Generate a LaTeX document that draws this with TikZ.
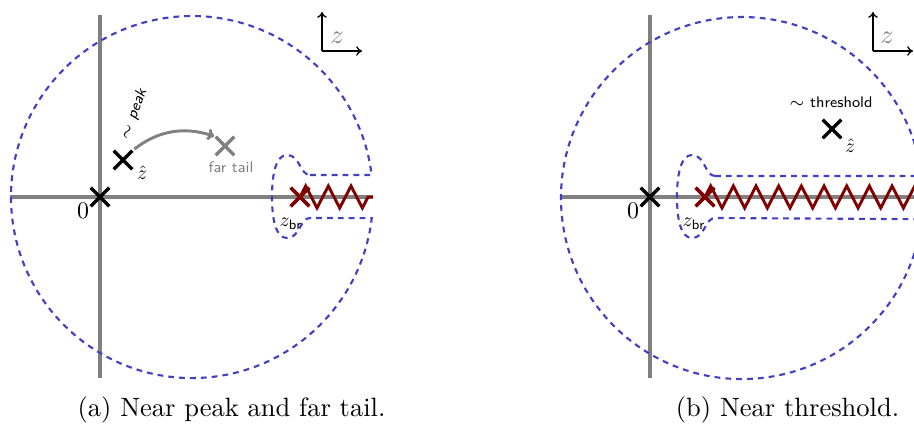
\documentclass[tikz,border=0pt]{standalone}
\usepackage{fontspec}
\usetikzlibrary{shapes.misc,decorations.pathmorphing,arrows.meta}
\definecolor{axisgray}{RGB}{128,128,128}
\definecolor{contourblue}{RGB}{64,64,196}
\definecolor{cutred}{RGB}{128,0,0}
\tikzset{
  axisline/.style={draw=axisgray, line width=1.5pt},
  contour/.style={draw=contourblue, line width=0.8pt, dash pattern=on 2.2pt off 1.9pt},
  crossmark/.style={draw, cross out, line width=1.3pt, minimum size=5.7pt, inner sep=0pt},
  cutline/.style={draw=cutred, line width=1.1pt, decorate, decoration={zigzag, segment length=8.56pt, amplitude=4.15pt}},
  indicator/.style={-{To[length=2.2pt,width=3.6pt]}, line width=0.5pt},
  mathlbl/.style={inner sep=0pt, scale=0.74},
  sflbl/.style={inner sep=0pt, font=\fontsize{5.8}{7}\selectfont\sffamily},
  caption/.style={inner sep=0pt, font=\fontsize{10}{12}\selectfont}
}
\begin{document}
\begin{tikzpicture}[x=0.3775pt,y=0.3775pt]
\useasboundingbox (0,0) rectangle (914,-434);
\clip (0,0) rectangle (914,-434);

% ---------------- panel (a) ----------------
\coordinate (ha1) at (10,-197);
\coordinate (hb1) at (373,-197);
\coordinate (va1) at (100,-15);
\coordinate (vb1) at (100,-378);
\draw[axisline] (ha1) -- (hb1);
\draw[axisline] (va1) -- (vb1);

\draw[contour] (310,-175) -- (371.65,-175)
  arc[start angle=7, end angle=353.3, radius=68.33pt]
  -- (310,-218)
  .. controls (300,-218) and (300,-238) .. (287,-238)
  .. controls (276,-238) and (272,-220) .. (272,-197)
  .. controls (272,-174) and (276,-155) .. (287,-155)
  .. controls (300,-155) and (300,-175) .. (310,-175) -- cycle;

\node[crossmark, draw=cutred] (br1) at (300,-197) {};
\coordinate (cutend1) at (373,-197);
\draw[cutline] (br1.center) -- (cutend1);
\node[crossmark, draw=cutred] at (300,-197) {};

\node[crossmark] (o1) at (100,-197) {};
\node[crossmark] (zh1) at (123,-160) {};
\node[crossmark, draw=axisgray] (tail1) at (225,-146) {};
\draw[axisgray, line width=1.1pt, -{To[length=2.6pt,width=4.4pt]}, shorten <=1pt, shorten >=0.6pt]
  (zh1.north east) to[out=38, in=162] (tail1.north west);

\node[inner sep=0pt, scale=0.9] (zero1) at (83,-211) {$0$};
\node[mathlbl] (zhl1) at (142,-173) {$\hat z$};
\node[sflbl, rotate=70] (peak1) at (134,-114) {$\sim$ \textit{peak}};
\node[sflbl, text=axisgray] (taill1) at (231,-167) {far tail};
\node[mathlbl] (brl1) at (291,-224) {$z_{\mathsf{br}}$};

\coordinate (ic1) at (322,-51);
\coordinate (iu1) at (322,-12);
\coordinate (ir1) at (362,-51);
\draw[indicator] (ic1) -- (iu1);
\draw[indicator] (ic1) -- (ir1);
\node[inner sep=0pt, text=axisgray] (iz1) at (337,-38) {$z$};

\node[caption] (cap1) at (231.5,-410) {(a) Near peak and far tail.};

% ---------------- panel (b) ----------------
\coordinate (ha2) at (561,-197);
\coordinate (hb2) at (930,-197);
\coordinate (va2) at (650,-15);
\coordinate (vb2) at (650,-378);
\draw[axisline] (ha2) -- (hb2);
\draw[axisline] (va2) -- (vb2);

\draw[contour] (715,-176) -- (921.65,-176)
  arc[start angle=7, end angle=353.3, radius=68.33pt]
  -- (715,-218)
  .. controls (705,-218) and (705,-238) .. (692,-238)
  .. controls (681,-238) and (677,-220) .. (677,-197)
  .. controls (677,-174) and (681,-155) .. (692,-155)
  .. controls (705,-155) and (705,-176) .. (715,-176) -- cycle;

\node[crossmark, draw=cutred] (br2) at (705,-197) {};
\coordinate (cutend2) at (935,-197);
\draw[cutline] (br2.center) -- (cutend2);
\node[crossmark, draw=cutred] at (705,-197) {};

\node[crossmark] (o2) at (650,-197) {};
\node[crossmark] (zh2) at (832,-129) {};

\node[inner sep=0pt, scale=0.9] (zero2) at (633,-211) {$0$};
\node[mathlbl] (zhl2) at (850,-146) {$\hat z$};
\node[sflbl] (thr2) at (831,-102) {$\sim$ threshold};
\node[mathlbl] (brl2) at (694,-224) {$z_{\mathsf{br}}$};

\coordinate (ic2) at (873,-51);
\coordinate (iu2) at (873,-12);
\coordinate (ir2) at (913,-51);
\draw[indicator] (ic2) -- (iu2);
\draw[indicator] (ic2) -- (ir2);
\node[inner sep=0pt, text=axisgray] (iz2) at (887,-38) {$z$};

\node[caption] (cap2) at (787.5,-410) {(b) Near threshold.};
\end{tikzpicture}
\end{document}
